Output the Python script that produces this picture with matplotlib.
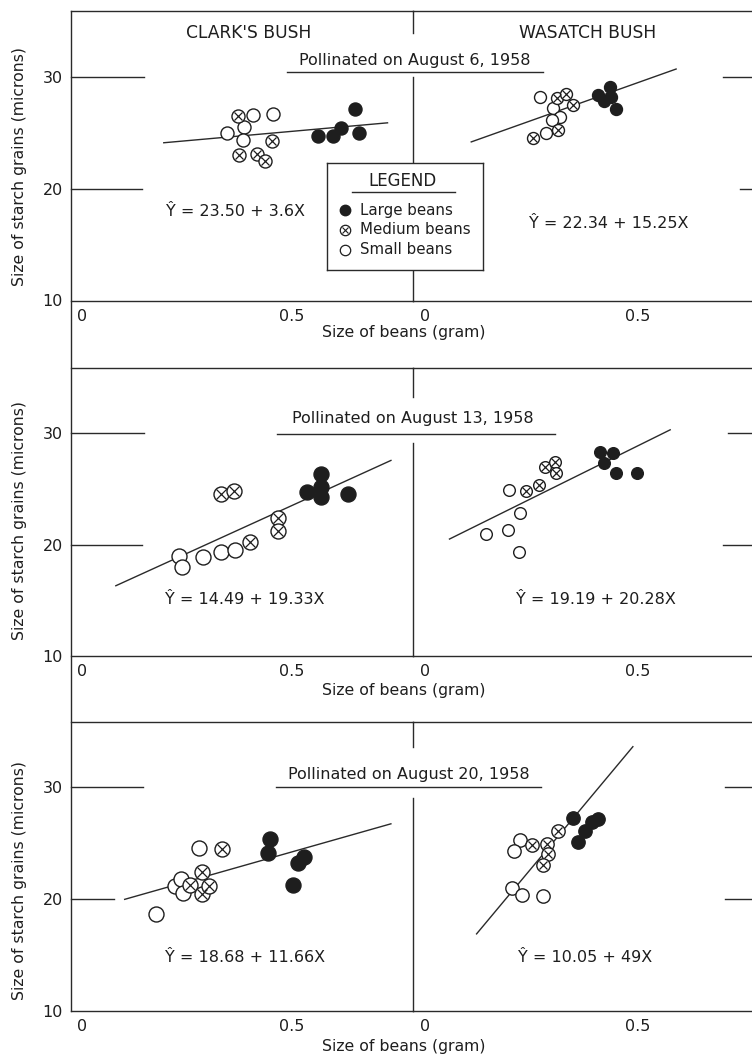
import matplotlib
matplotlib.use("Agg")
import matplotlib.pyplot as plt

# ------------------------------------------------------------------ data
bush_names = ["CLARK'S BUSH", "WASATCH BUSH"]
dates = ["Pollinated on August 6, 1958",
         "Pollinated on August 13, 1958",
         "Pollinated on August 20, 1958"]
clark_equations = ["Ŷ = 23.50 + 3.6X", "Ŷ = 14.49 + 19.33X", "Ŷ = 18.68 + 11.66X"]
wasatch_equations = ["Ŷ = 22.34 + 15.25X", "Ŷ = 19.19 + 20.28X", "Ŷ = 10.05 + 49X"]
y_ticks = [10, 20, 30]
y_tick_labels = ["10", "20", "30"]
x_ticks = [0, 0.5]
x_tick_labels = ["0", "0.5"]
x_label = "Size of beans (gram)"
y_label = "Size of starch grains (microns)"
legend_title = "LEGEND"
legend_labels = ["Large beans", "Medium beans", "Small beans"]

# Clark's bush, August 6
clark6_large_x = [0.563, 0.598, 0.616, 0.650, 0.660]
clark6_large_y = [24.65, 24.65, 25.40, 27.13, 25.00]
clark6_medium_x = [0.372, 0.374, 0.416, 0.436, 0.452]
clark6_medium_y = [26.50, 23.00, 23.09, 22.49, 24.20]
clark6_small_x = [0.345, 0.386, 0.408, 0.454, 0.384]
clark6_small_y = [25.00, 25.45, 26.59, 26.65, 24.35]
clark6_fit_x = [0.193, 0.729]
clark6_fit_y = [24.08, 25.87]

# Wasatch bush, August 6
wasatch6_large_x = [0.406, 0.420, 0.434, 0.437, 0.448]
wasatch6_large_y = [28.39, 27.85, 29.10, 28.21, 27.13]
wasatch6_medium_x = [0.254, 0.313, 0.309, 0.331, 0.347]
wasatch6_medium_y = [24.53, 25.22, 28.05, 28.48, 27.46]
wasatch6_small_x = [0.270, 0.300, 0.317, 0.297, 0.284]
wasatch6_small_y = [28.21, 27.22, 26.39, 26.08, 24.98]
wasatch6_fit_x = [0.107, 0.591]
wasatch6_fit_y = [24.14, 30.69]

# Clark's bush, August 13
clark13_large_x = [0.536, 0.568, 0.568, 0.568, 0.634]
clark13_large_y = [24.74, 26.32, 25.18, 24.29, 24.50]
clark13_medium_x = [0.330, 0.362, 0.400, 0.466, 0.466]
clark13_medium_y = [24.53, 24.83, 20.25, 22.40, 21.21]
clark13_small_x = [0.231, 0.239, 0.287, 0.331, 0.364]
clark13_small_y = [18.99, 17.99, 18.91, 19.35, 19.51]
clark13_fit_x = [0.079, 0.737]
clark13_fit_y = [16.28, 27.58]

# Wasatch bush, August 13
wasatch13_large_x = [0.411, 0.441, 0.419, 0.448, 0.497]
wasatch13_large_y = [28.32, 28.23, 27.34, 26.39, 26.39]
wasatch13_medium_x = [0.237, 0.268, 0.282, 0.304, 0.308]
wasatch13_medium_y = [24.80, 25.34, 26.98, 27.43, 26.39]
wasatch13_small_x = [0.198, 0.223, 0.143, 0.194, 0.220]
wasatch13_small_y = [24.89, 22.85, 20.94, 21.27, 19.30]
wasatch13_fit_x = [0.056, 0.577]
wasatch13_fit_y = [20.47, 30.33]

# Clark's bush, August 20
clark20_large_x = [0.448, 0.442, 0.514, 0.529, 0.503]
clark20_large_y = [25.42, 24.17, 23.28, 23.78, 21.25]
clark20_medium_x = [0.257, 0.285, 0.285, 0.302, 0.333]
clark20_medium_y = [21.25, 22.44, 20.45, 21.19, 24.53]
clark20_small_x = [0.176, 0.221, 0.236, 0.240, 0.279]
clark20_small_y = [18.72, 21.19, 21.85, 20.51, 24.62]
clark20_fit_x = [0.100, 0.737]
clark20_fit_y = [19.97, 26.76]

# Wasatch bush, August 20
wasatch20_large_x = [0.347, 0.360, 0.376, 0.391, 0.407]
wasatch20_large_y = [27.29, 25.12, 26.10, 26.90, 27.21]
wasatch20_medium_x = [0.252, 0.286, 0.289, 0.276, 0.313]
wasatch20_medium_y = [24.82, 24.91, 24.02, 23.04, 26.10]
wasatch20_small_x = [0.223, 0.209, 0.204, 0.227, 0.278]
wasatch20_small_y = [25.27, 24.31, 21.04, 20.36, 20.29]
wasatch20_fit_x = [0.120, 0.489]
wasatch20_fit_y = [16.85, 33.69]

# ------------------------------------------------------------------ style
plt.rcParams["font.family"] = ["DejaVu Sans"]
INK = "#1e1e1e"
LINE = "#2a2a2a"
W, H, DPI = 752, 1056, 100
fig = plt.figure(figsize=(W / DPI, H / DPI), dpi=DPI, facecolor="white")


def px_axes(x0, y0, x1, y1, **kw):
    return fig.add_axes([x0 / W, 1 - y1 / H, (x1 - x0) / W, (y1 - y0) / H], **kw)


row_tops = [11, 368, 722]
row_bottoms = [300.5, 656, 1011]
left_span = (71, 413)
right_span = (413, 752)
left_xlim = (-0.0262, 0.788)
right_xlim = (-0.0282, 0.7676)
ylim = (10, 35.85)

panels = [
    [(clark6_large_x, clark6_large_y, clark6_medium_x, clark6_medium_y, clark6_small_x, clark6_small_y, clark6_fit_x, clark6_fit_y),
     (wasatch6_large_x, wasatch6_large_y, wasatch6_medium_x, wasatch6_medium_y, wasatch6_small_x, wasatch6_small_y, wasatch6_fit_x, wasatch6_fit_y)],
    [(clark13_large_x, clark13_large_y, clark13_medium_x, clark13_medium_y, clark13_small_x, clark13_small_y, clark13_fit_x, clark13_fit_y),
     (wasatch13_large_x, wasatch13_large_y, wasatch13_medium_x, wasatch13_medium_y, wasatch13_small_x, wasatch13_small_y, wasatch13_fit_x, wasatch13_fit_y)],
    [(clark20_large_x, clark20_large_y, clark20_medium_x, clark20_medium_y, clark20_small_x, clark20_small_y, clark20_fit_x, clark20_fit_y),
     (wasatch20_large_x, wasatch20_large_y, wasatch20_medium_x, wasatch20_medium_y, wasatch20_small_x, wasatch20_small_y, wasatch20_fit_x, wasatch20_fit_y)],
]
marker_sizes = [[9.4, 8.6], [10.8, 8.4], [10.8, 9.6]]
left_tick_len = [[0.213, 0.208], [0.213, 0.208], [0.210, 0.126]]
right_tick_start = [[0.914, 0.965], [0.929, 0.914], [0.920, 0.920]]
equation_pos = [[(236, 212), (609, 223)], [(245, 600), (596, 600)], [(245, 957), (585, 958)]]
date_pos = [(415, 61), (413, 418), (409, 774)]
underline_span = [(287, 543, 72), (277, 555, 434), (276, 541, 787)]
divider_segments = [[(11, 33), (77, 300.5)], [(368, 397), (443, 656)], [(722, 747), (798, 1011)]]
xlabel_y = [333, 690, 1047]
ylabel_y = [167, 520, 881]


def draw_points(ax, data, ms):
    lx, ly, mx, my, sx, sy, fx, fy = data
    ax.plot(fx, fy, color=LINE, lw=1.0, zorder=2, solid_capstyle="butt")
    ax.plot(sx, sy, ls="none", marker="o", ms=ms, mfc="white", mec=INK, mew=1.0, zorder=3)
    ax.plot(mx, my, ls="none", marker="o", ms=ms, mfc="white", mec=INK, mew=1.0, zorder=4)
    ax.plot(mx, my, ls="none", marker="x", ms=ms * 0.66, mec=INK, mew=0.9, zorder=5)
    ax.plot(lx, ly, ls="none", marker="o", ms=ms, mfc=INK, mec=INK, mew=1.0, zorder=6)


for r in range(3):
    for c in range(2):
        span = left_span if c == 0 else right_span
        ax = px_axes(span[0], row_tops[r], span[1], row_bottoms[r])
        ax.set_facecolor("none")
        ax.set_xlim(left_xlim if c == 0 else right_xlim)
        ax.set_ylim(ylim)
        for side in ("left", "right"):
            ax.spines[side].set_visible(False)
        for side in ("top", "bottom"):
            ax.spines[side].set_color(LINE)
            ax.spines[side].set_linewidth(1.0)
        ax.set_xticks(x_ticks)
        ax.set_xticklabels(x_tick_labels)
        ax.tick_params(axis="x", length=0, pad=6, labelsize=11.5, labelcolor=INK)
        if c == 0:
            ax.set_yticks(y_ticks)
            ax.set_yticklabels(y_tick_labels)
            ax.tick_params(axis="y", length=0, pad=6, labelsize=11.5, labelcolor=INK)
            ty = ax.get_yaxis_transform()
            ax.plot([0, left_tick_len[r][0]], [30, 30], color=LINE, lw=1.0, transform=ty, clip_on=False)
            ax.plot([0, left_tick_len[r][1]], [20, 20], color=LINE, lw=1.0, transform=ty, clip_on=False)
        else:
            ax.set_yticks([])
            ty = ax.get_yaxis_transform()
            ax.plot([right_tick_start[r][0], 1], [30, 30], color=LINE, lw=1.0, transform=ty, clip_on=False)
            ax.plot([right_tick_start[r][1], 1], [20, 20], color=LINE, lw=1.0, transform=ty, clip_on=False)
        draw_points(ax, panels[r][c], marker_sizes[r][c])

# overlay for frame pieces and annotations (pixel coordinates)
ov = fig.add_axes([0, 0, 1, 1], zorder=5)
ov.set_xlim(0, W)
ov.set_ylim(H, 0)
ov.axis("off")
ov.plot([71, 71], [11, 1011], color=LINE, lw=1.0)
for r in range(3):
    for (a, b) in divider_segments[r]:
        ov.plot([413, 413], [a, b], color=LINE, lw=1.0)
    x0, x1, yy = underline_span[r]
    ov.plot([x0, x1], [yy, yy], color=LINE, lw=1.0)
    ov.text(date_pos[r][0], date_pos[r][1], dates[r], ha="center", va="center", fontsize=11.5, color=INK)
    ov.text(equation_pos[r][0][0], equation_pos[r][0][1], clark_equations[r], ha="center", va="center", fontsize=11.5, color=INK)
    ov.text(equation_pos[r][1][0], equation_pos[r][1][1], wasatch_equations[r], ha="center", va="center", fontsize=11.5, color=INK)
    ov.text(404, xlabel_y[r], x_label, ha="center", va="center", fontsize=11.3, color=INK)
    ov.text(20, ylabel_y[r], y_label, ha="center", va="center", rotation=90, fontsize=11.3, color=INK)
ov.text(249, 33, bush_names[0], ha="center", va="center", fontsize=12.3, color=INK)
ov.text(588, 33, bush_names[1], ha="center", va="center", fontsize=12.3, color=INK)

# legend box
lg = px_axes(327, 163, 483, 270, zorder=10)
lg.set_facecolor("white")
lg.set_xlim(0, 156)
lg.set_ylim(107, 0)
lg.set_xticks([])
lg.set_yticks([])
for s in lg.spines.values():
    s.set_color(LINE)
    s.set_linewidth(1.0)
lg.text(76, 18, legend_title, ha="center", va="center", fontsize=12, color=INK)
lg.plot([25, 128], [29, 29], color=LINE, lw=1.0)
rows_y = [47, 67, 87]
lg.plot([18], [rows_y[0]], marker="o", ms=7.5, mfc=INK, mec=INK, ls="none")
lg.plot([18], [rows_y[1]], marker="o", ms=7.5, mfc="white", mec=INK, mew=0.9, ls="none")
lg.plot([18], [rows_y[1]], marker="x", ms=5.0, mec=INK, mew=0.8, ls="none")
lg.plot([18], [rows_y[2]], marker="o", ms=7.5, mfc="white", mec=INK, mew=0.9, ls="none")
for yy, lab in zip(rows_y, legend_labels):
    lg.text(33, yy, lab, ha="left", va="center", fontsize=10.8, color=INK)

fig.savefig("out.png", dpi=DPI, facecolor="white")
